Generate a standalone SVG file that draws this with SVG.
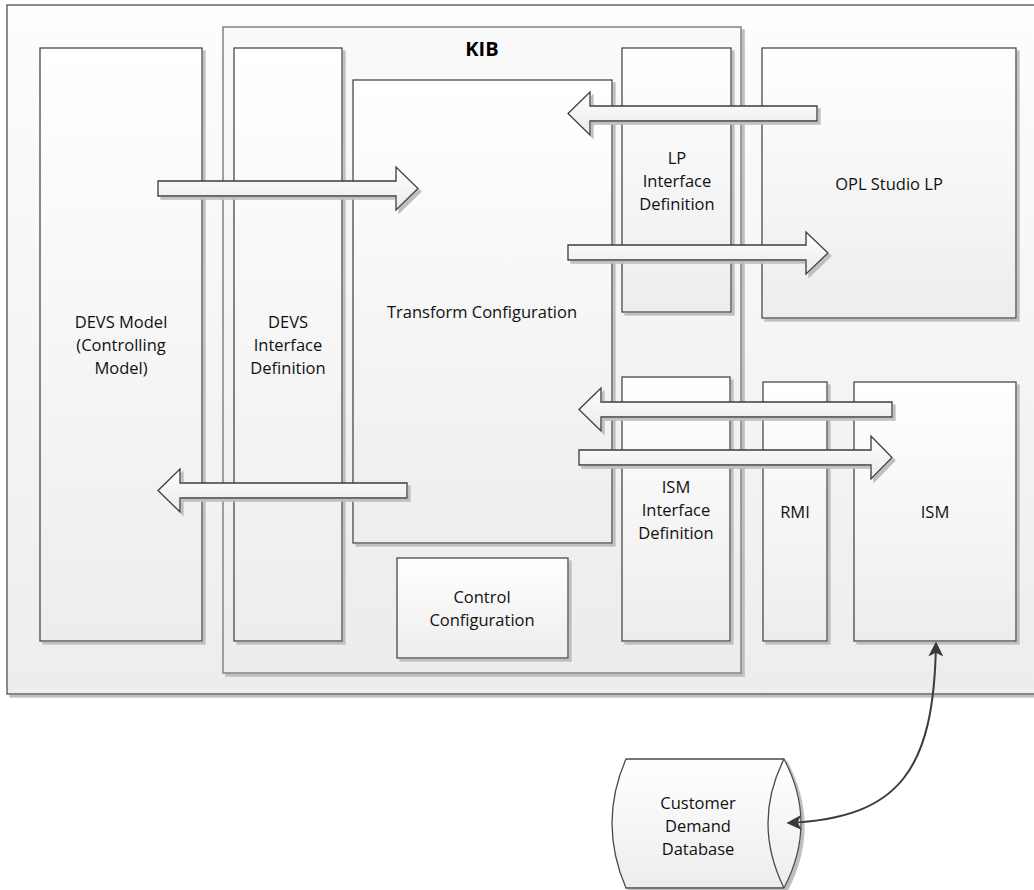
<svg xmlns="http://www.w3.org/2000/svg" width="1034" height="890" viewBox="0 0 1034 890">
<style>
.box{stroke:#4a4a4a;stroke-width:1.3;fill:url(#g)}
.kib{stroke:#8a8a8a;stroke-width:1.6;fill:url(#g2)}
.arr{stroke:#3c3c3c;stroke-width:1.3;fill:url(#ga);stroke-linejoin:miter}
.t{font-family:"Open Sans","Liberation Sans",sans-serif;font-size:16.5px;fill:#111111;text-anchor:middle;dominant-baseline:central}
.kt{font-family:"Open Sans","Liberation Sans",sans-serif;font-size:20px;font-weight:bold;fill:#000;text-anchor:middle;dominant-baseline:central}
.conn{fill:none;stroke:#3a3a3a;stroke-width:2}
</style>
<defs>
<linearGradient id="g" x1="0" y1="0" x2="0" y2="1"><stop offset="0" stop-color="#ffffff"/><stop offset="1" stop-color="#ededed"/></linearGradient>
<linearGradient id="g2" x1="0" y1="0" x2="0" y2="1"><stop offset="0" stop-color="#fafafa"/><stop offset="1" stop-color="#ececec"/></linearGradient>
<linearGradient id="go" x1="0" y1="0" x2="0" y2="1"><stop offset="0" stop-color="#fdfdfd"/><stop offset="1" stop-color="#ededed"/></linearGradient>
<linearGradient id="ga" x1="0" y1="0" x2="0" y2="1"><stop offset="0" stop-color="#fefefe"/><stop offset="1" stop-color="#eaeaea"/></linearGradient>
<filter id="sh" x="-5%" y="-5%" width="115%" height="115%">
<feOffset in="SourceAlpha" dx="3" dy="3" result="o"/>
<feFlood flood-color="#bfbfbf"/>
<feComposite in2="o" operator="in" result="s"/>
<feMerge><feMergeNode in="s"/><feMergeNode in="SourceGraphic"/></feMerge>
</filter>
<marker id="ah" viewBox="0 0 10 10" refX="9" refY="5" markerWidth="15" markerHeight="15" orient="auto-start-reverse" markerUnits="userSpaceOnUse">
<path d="M0,0 L10,5 L0,10 L2.5,5 Z" fill="#3a3a3a"/>
</marker>
</defs>
<rect width="1034" height="890" fill="#ffffff"/>

<g id="outer"><rect x="7" y="5" width="1040" height="689" fill="url(#go)" stroke="#505050" stroke-width="1.3" filter="url(#sh)"/></g>

<g id="kib"><rect class="kib" x="223" y="27" width="518" height="646" filter="url(#sh)"/>
<text class="kt" x="482" y="48">KIB</text></g>

<g id="devs-model"><rect class="box" x="40" y="48" width="162" height="593" filter="url(#sh)"/>
<text class="t" x="121" y="321.5">DEVS Model</text><text class="t" x="121" y="344.5">(Controlling</text><text class="t" x="121" y="367.5">Model)</text></g>

<g id="devs-interface"><rect class="box" x="234" y="48" width="108" height="593" filter="url(#sh)"/>
<text class="t" x="288" y="321.5">DEVS</text><text class="t" x="288" y="344.5">Interface</text><text class="t" x="288" y="367.5">Definition</text></g>

<g id="transform"><rect class="box" x="353" y="80" width="259" height="463" filter="url(#sh)"/>
<text class="t" x="482" y="311.5">Transform Configuration</text></g>

<g id="control"><rect class="box" x="397" y="558" width="171" height="100" filter="url(#sh)"/>
<text class="t" x="482" y="596.5">Control</text><text class="t" x="482" y="619.5">Configuration</text></g>

<g id="lp-interface"><rect class="box" x="622" y="48" width="109" height="264" filter="url(#sh)"/>
<text class="t" x="677" y="157">LP</text><text class="t" x="677" y="180">Interface</text><text class="t" x="677" y="203">Definition</text></g>

<g id="ism-interface"><rect class="box" x="622" y="377" width="108" height="264" filter="url(#sh)"/>
<text class="t" x="676" y="486">ISM</text><text class="t" x="676" y="509">Interface</text><text class="t" x="676" y="532">Definition</text></g>

<g id="opl"><rect class="box" x="762" y="48" width="254" height="270" filter="url(#sh)"/>
<text class="t" x="889" y="183">OPL Studio LP</text></g>

<g id="rmi"><rect class="box" x="763" y="382" width="64" height="259" filter="url(#sh)"/>
<text class="t" x="795" y="511">RMI</text></g>

<g id="ism"><rect class="box" x="854" y="382" width="162" height="259" filter="url(#sh)"/>
<text class="t" x="935" y="511">ISM</text></g>

<g id="database">
<path d="M626,759 L784,759 Q818,823 784,888 L626,888 Q598,823 626,759 Z" fill="url(#g)" stroke="#4a4a4a" stroke-width="1.3" filter="url(#sh)"/>
<path d="M784,759 Q752,823 784,888" fill="none" stroke="#4a4a4a" stroke-width="1.3"/>
<text class="t" x="698" y="802">Customer</text><text class="t" x="698" y="825">Demand</text><text class="t" x="698" y="848">Database</text>
</g>

<g id="connectors">
<polygon class="arr" filter="url(#sh)" points="158,181 396,181 396,167 418,188.5 396,210 396,196 158,196"/>
<polygon class="arr" filter="url(#sh)" points="407,483 180,483 180,469 158,490.5 180,512 180,498 407,498"/>
<polygon class="arr" filter="url(#sh)" points="817,106 590,106 590,92 568,113.5 590,135 590,121 817,121"/>
<polygon class="arr" filter="url(#sh)" points="568,245 806,245 806,232 828,253 806,274 806,260 568,260"/>
<polygon class="arr" filter="url(#sh)" points="892,402 601,402 601,388 579,409.5 601,431 601,417 892,417"/>
<polygon class="arr" filter="url(#sh)" points="579,450 871,450 871,436 892,457.5 871,479 871,465 579,465"/>
<path class="conn" d="M936,643 C934,770 900,818 788,823" marker-start="url(#ah)" marker-end="url(#ah)"/>
</g>
</svg>
